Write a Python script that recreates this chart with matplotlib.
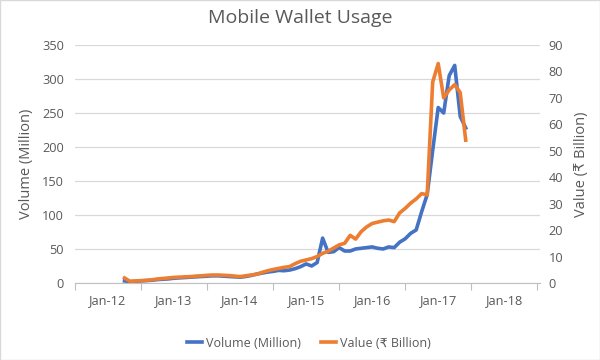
import numpy as np
import matplotlib
matplotlib.use("Agg")
import matplotlib.pyplot as plt
from matplotlib.lines import Line2D

plt.rcParams['font.family'] = ['Open Sans', 'DejaVu Sans']

# Data: monthly, Apr 2012 .. Jun 2017 (month index counted from Jan 2012)
months = np.arange(3, 66)
volume = [3, 2, 2.5, 3, 3.5, 4, 5, 5.5, 6, 7, 7.5, 8, 8.5, 9, 9.5, 10, 10.5, 10.5, 10,
          9.5, 9, 8.5, 9.5, 11, 13, 14.5, 16, 17, 18.5, 18,
          19, 21, 24, 28, 25, 30, 66, 45, 46, 52, 47, 47, 50, 51, 52, 53, 51, 50, 53,
          52, 60, 65, 73, 78, 105, 130, 195, 258, 250, 305, 320, 245, 228]
value = [1.9, 0.6, 0.7, 0.9, 1.0, 1.2, 1.5, 1.7, 1.9, 2.1, 2.2, 2.3, 2.4, 2.6, 2.7,
         2.9, 3.0, 3.0, 2.9, 2.8, 2.6, 2.4, 2.7, 3.0, 3.3, 4.0, 4.6, 5.1, 5.5, 5.9,
         6.2, 7.3, 8.2, 8.7, 9.2, 10.0, 11.2, 12.0, 13.2, 14.4, 15.0, 18.0, 16.6,
         19.4, 21.2, 22.5, 23.0, 23.5, 23.8, 23.2, 26.5, 28.2, 30.2, 31.8, 33.8,
         33.3, 76, 83, 70, 73, 75, 72, 54]

year_labels = ['Jan-12', 'Jan-13', 'Jan-14', 'Jan-15', 'Jan-16', 'Jan-17', 'Jan-18']

blue = '#4472C4'
orange = '#ED7D31'
grey = '#595959'

fig = plt.figure(figsize=(6, 3.6), dpi=100)
fig.patches.append(plt.Rectangle((0, 0), 1, 1, transform=fig.transFigure,
                                 fill=False, edgecolor='#D9D9D9', lw=1))
ax = fig.add_axes([0.125, 0.214, 0.775, 0.661])
ax2 = ax.twinx()

ax.plot(months, volume, color=blue, lw=2.6, solid_joinstyle='round')
ax2.plot(months, value, color=orange, lw=2.6, solid_joinstyle='round')

ax.set_xlim(-6, 78.5)
ax.set_ylim(0, 350)
ax2.set_ylim(0, 90)
ax.set_yticks(np.arange(0, 351, 50))
ax2.set_yticks(np.arange(0, 91, 10))
ax.set_xticks(np.arange(0, 73, 12))
ax.set_xticklabels(year_labels)
ax.set_xticks(np.arange(-6, 79, 12), minor=True)
ax.tick_params(axis='x', which='major', length=0, pad=8, labelsize=9.2, colors=grey)
ax.tick_params(axis='x', which='minor', length=5, color='#BFBFBF', width=0.8)
ax.tick_params(axis='y', length=0, pad=8, labelsize=9.2, colors=grey)
ax2.tick_params(axis='y', length=0, pad=6, labelsize=9.2, colors=grey)

ax.grid(axis='y', color='#D9D9D9', lw=0.9)
ax.set_axisbelow(True)
for a in (ax, ax2):
    for s in ('top', 'left', 'right'):
        a.spines[s].set_visible(False)
ax.spines['bottom'].set_color('#BFBFBF')
ax2.spines['bottom'].set_visible(False)

ax.set_ylabel('Volume (Million)', fontsize=10.5, color=grey, labelpad=6)
ax2.set_ylabel('Value (₹ Billion)', fontsize=10.5, color=grey, labelpad=8)
fig.suptitle('Mobile Wallet Usage', y=0.975, fontsize=14, color=grey)

handles = [Line2D([], [], color=blue, lw=2.6), Line2D([], [], color=orange, lw=2.6)]
fig.legend(handles, ['Volume (Million)', 'Value (₹ Billion)'], loc='center',
           bbox_to_anchor=(0.515, 0.047), ncol=2, frameon=False, fontsize=9,
           handlelength=1.2, handletextpad=0.3, columnspacing=1.6, labelcolor=grey)

fig.savefig('out.png', dpi=100)
